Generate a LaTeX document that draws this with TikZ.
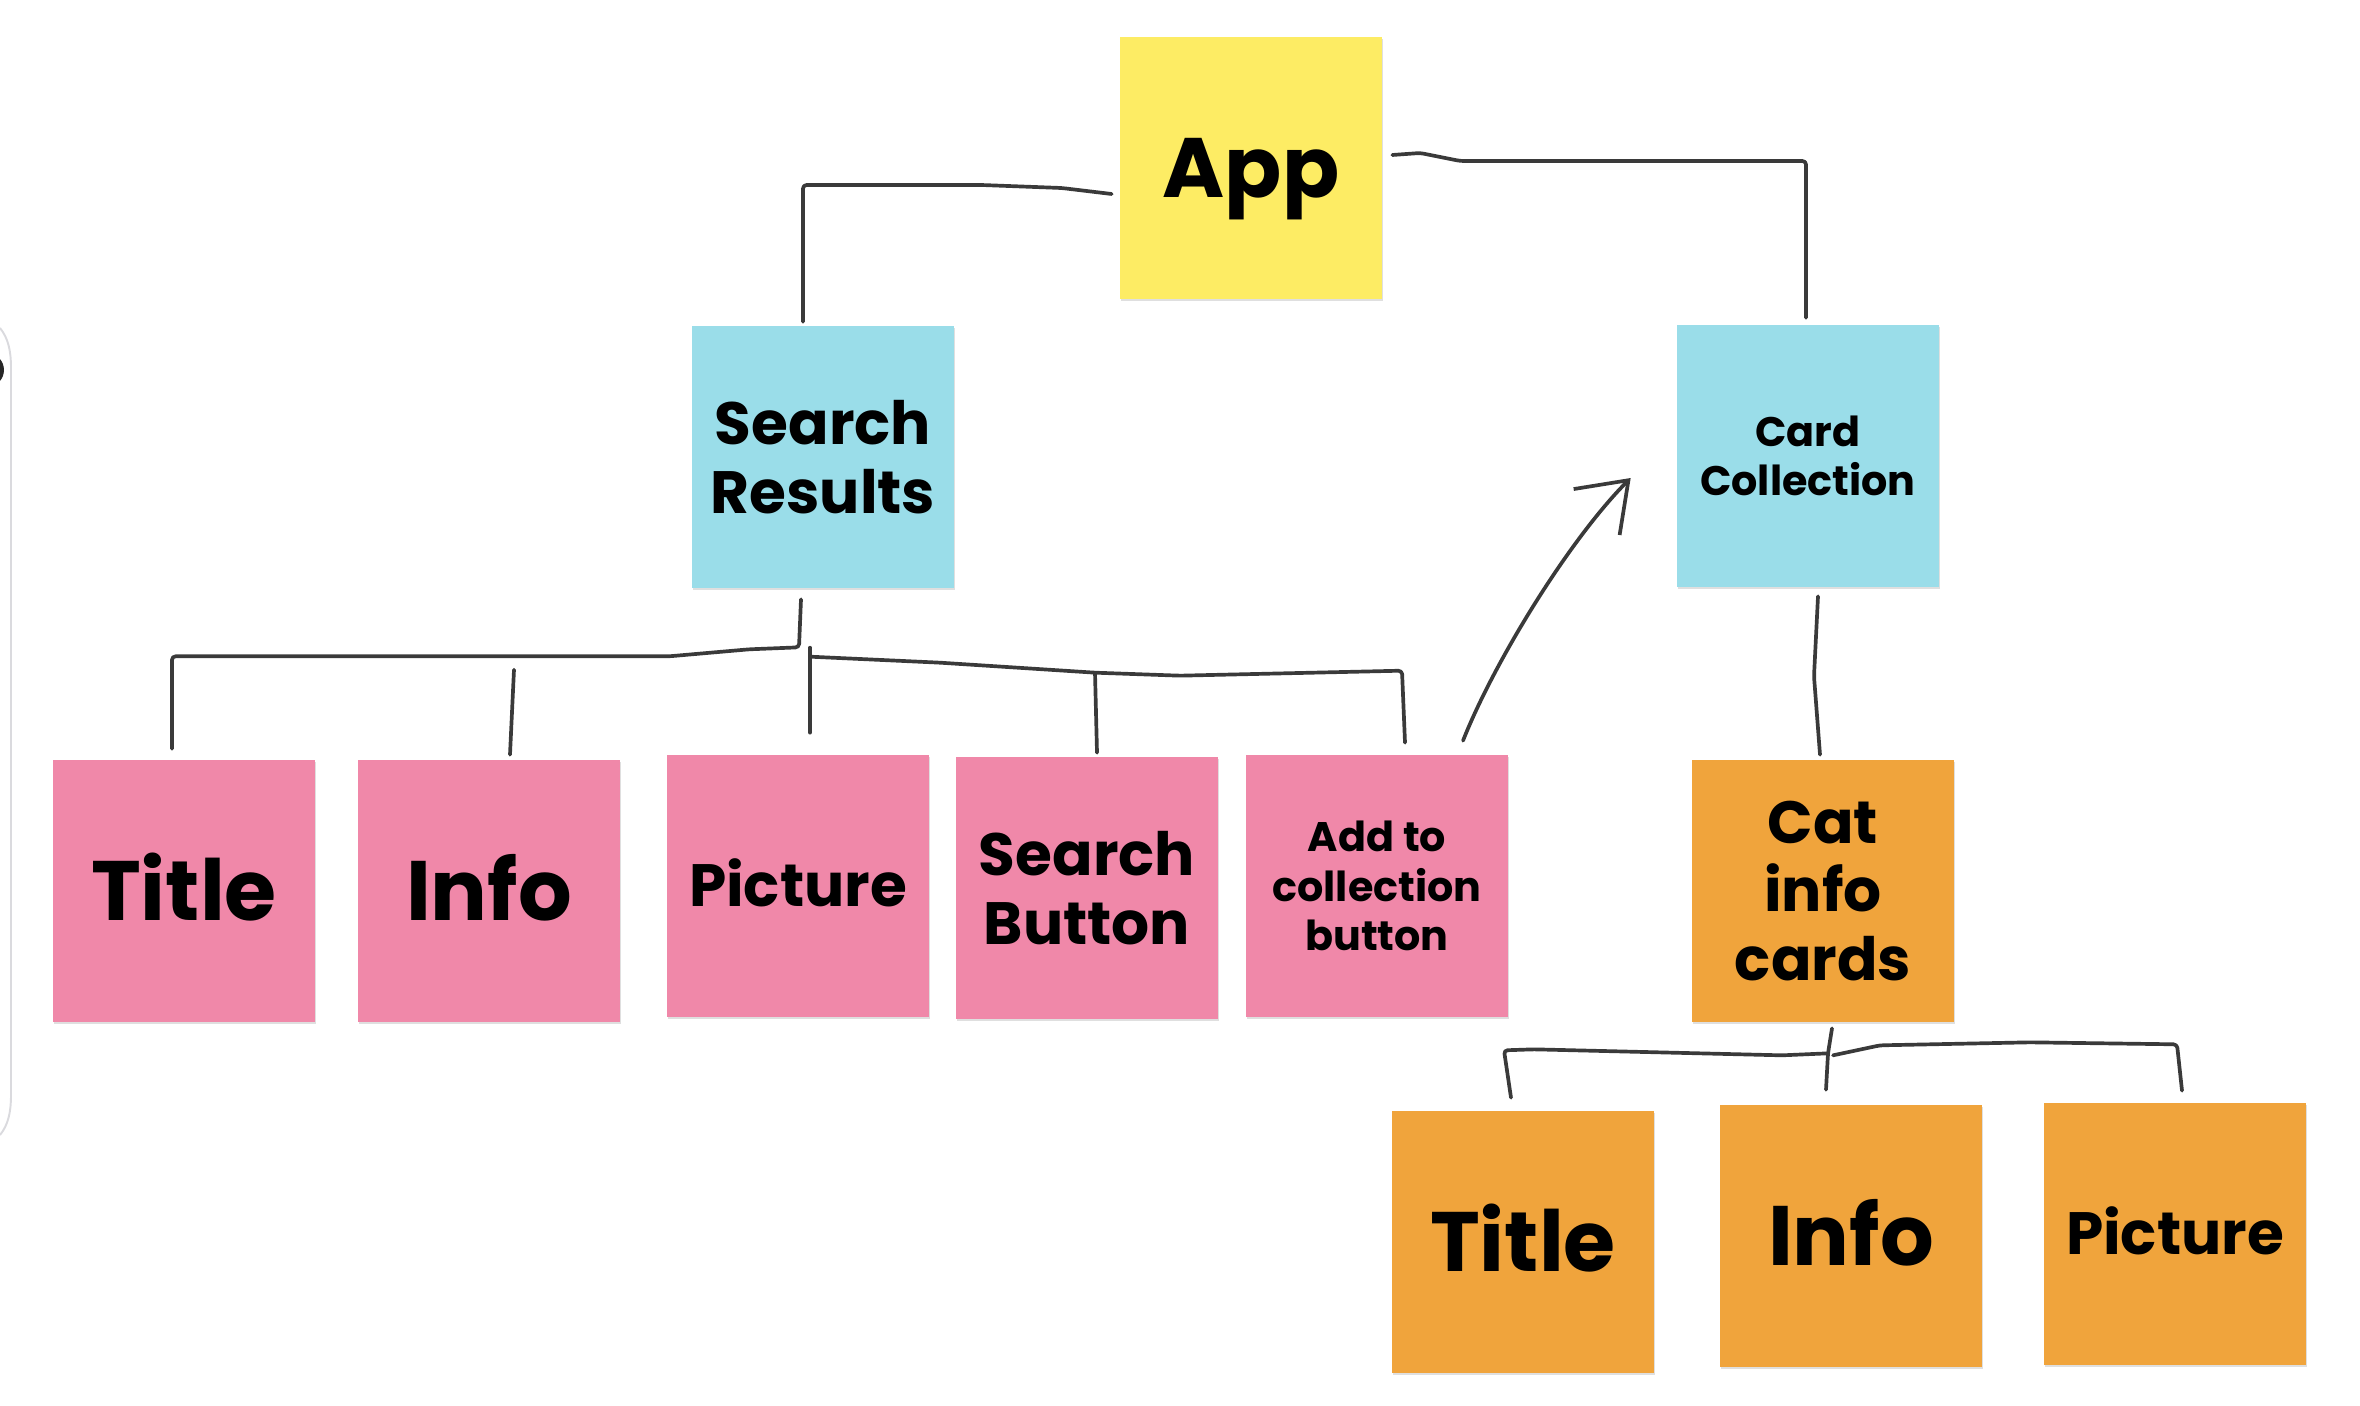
\documentclass[tikz,border=0pt]{standalone}
\usepackage{fontspec}
\setmainfont{Poppins}
\usepackage{tikz}
\usetikzlibrary{arrows,arrows.meta,calc,positioning,shadows}
\definecolor{noteyellow}{RGB}{253,236,100}
\definecolor{noteblue}{RGB}{154,221,233}
\definecolor{notepink}{RGB}{240,136,169}
\definecolor{noteorange}{RGB}{240,164,60}
\definecolor{wire}{RGB}{58,58,58}
\definecolor{framegray}{RGB}{218,218,222}

\begin{document}
\begin{tikzpicture}[x=0.02cm,y=-0.02cm]
    \tikzset{NoteStyle/.style= {minimum width=5.24cm,
        minimum height=5.24cm,
        inner sep=0pt,
        align=center,
        drop shadow={shadow xshift=0.6pt, shadow yshift=-1.4pt, opacity=0.25}},
      BigText/.style = {font=\bfseries\fontsize{48}{54}\selectfont, text height=33.5pt, text depth=0pt},
      MidText/.style = {font=\bfseries\fontsize{34}{39}\selectfont},
      SmallText/.style = {font=\bfseries\fontsize{23.5}{28}\selectfont},
      WireStyle/.style = {draw=wire, line width=2.1pt, line cap=round, line join=round, rounded corners=2pt}}
    \useasboundingbox (0,0) rectangle (2360,1406);
    \draw[framegray, line width=1.1pt] (0,328) .. controls (8,338) and (11,350) .. (11,368) -- (11,1095) .. controls (11,1113) and (8,1125) .. (0,1135);
    \fill[black!85] (-13,370) circle (0.34cm);
    \node[NoteStyle, fill=noteyellow, BigText] (App) at (1251,168) {App};
    \node[NoteStyle, fill=noteblue, MidText] (SR) at (823,457) {Search\\Results};
    \node[NoteStyle, fill=noteblue, SmallText] (CC) at (1808,456) {Card\\Collection};
    \node[NoteStyle, fill=notepink, BigText] (T1) at (184,891) {Title};
    \node[NoteStyle, fill=notepink, BigText] (I1) at (489,891) {Info};
    \node[NoteStyle, fill=notepink, MidText, text height=23.8pt, text depth=0pt] (P1) at (798,886) {Picture};
    \node[NoteStyle, fill=notepink, MidText] (SB) at (1087,888) {Search\\Button};
    \node[NoteStyle, fill=notepink, SmallText] (AC) at (1377,886) {Add to\\collection\\button};
    \node[NoteStyle, fill=noteorange, MidText] (CI) at (1823,891) {Cat\\info\\cards};
    \node[NoteStyle, fill=noteorange, BigText] (T2) at (1523,1242) {Title};
    \node[NoteStyle, fill=noteorange, BigText] (I2) at (1851,1236) {Info};
    \node[NoteStyle, fill=noteorange, MidText, text height=23.8pt, text depth=0pt] (P2) at (2175,1234) {Picture};
    \draw[WireStyle] ($(App.west)+(-8,26)$) -- ++(-50,-6) -- ++(-80,-3) -| ($(SR.north)+(-20,-4)$);
    \draw[WireStyle] ($(App.east)+(10,-13)$) -- ++(28,-2) -- ++(40,8) -| ($(CC.north)+(-2,-7)$);
    \draw[WireStyle] ($(SR.south)+(-22,11)$) -- ++(-2,48) -- ++(-50,2) -- ++(-80,7) -| ($(T1.north)+(-12,-11)$);
    \draw[WireStyle] ($(I1.north)+(21,-5)$) -- ($(I1.north)+(25,-90)$);
    \draw[WireStyle] ($(AC.north)+(28,-12)$) -- ++(-3,-72) -- ++(-222,5) -- ++(-85,-3) coordinate (SBtop) -- ++(-155,-10) -- ++(-130,-6);
    \draw[WireStyle] ($(P1.north)+(12,-22)$) -- ++(0,-85);
    \draw[WireStyle] (SBtop) -- ($(SB.north)+(10,-4)$);
    \draw[WireStyle, -{Straight Barb[length=0.9cm, width=1.3cm]}] ($(AC.north)+(86,-14)$) .. controls +(32,-81) and +(-60,60) .. ($(CC.west)+(-46,22)$);
    \draw[WireStyle] ($(CC.south)+(10,9)$) -- ++(-4,80) -- ($(CI.north)+(-3,-5)$);
    \draw[WireStyle] ($(CI.south)+(9,6)$) -- ++(-4,25) coordinate (CIjoin) -- ($(I2.north)+(-25,-15)$);
    \draw[WireStyle] (CIjoin) -- ++(-46,2) -- ++(-248,-6) -- ++(-30,1) -- ($(T2.north)+(-12,-13)$);
    \draw[WireStyle] ($(CIjoin)+(5,2)$) -- ++(47,-10) -- ++(150,-3) -- ++(147,2) -- ($(P2.north)+(7,-12)$);
  \end{tikzpicture}
\end{document}
